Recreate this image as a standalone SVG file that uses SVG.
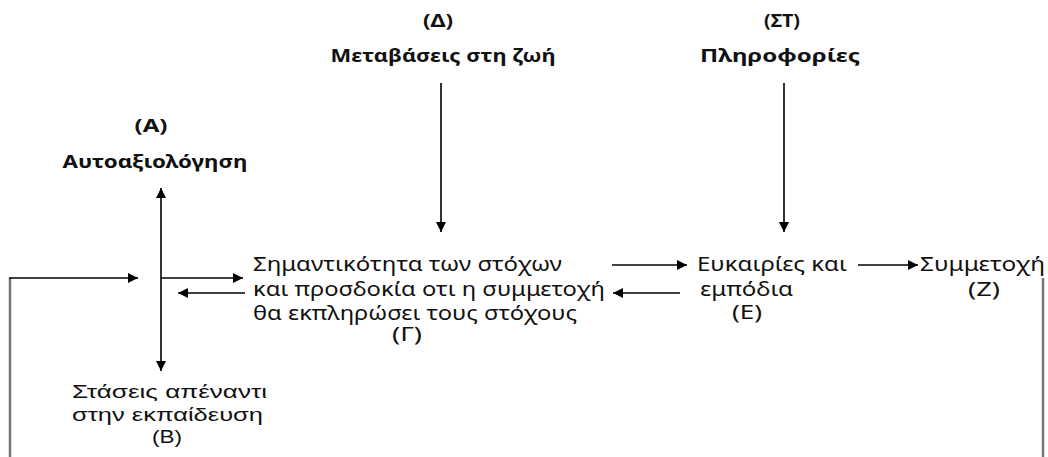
<svg xmlns="http://www.w3.org/2000/svg" width="1048" height="457" viewBox="0 0 1048 457">
<style>
text{font-family:"Noto Sans","Open Sans",sans-serif;fill:#111;}
.b{font-weight:bold;font-size:18px;}
.r{font-size:19px;}
.s{font-family:"Liberation Sans",Arial,sans-serif;font-size:18px;}
.c{text-anchor:middle;}
.ln{stroke:#000;stroke-width:1.6;fill:none;}
.gl{stroke:#777;stroke-width:2.5;fill:none;}
</style>
<defs>
<marker id="ah" viewBox="0 0 10 10" refX="10" refY="5" markerWidth="10" markerHeight="10" markerUnits="userSpaceOnUse" orient="auto">
<path d="M0,0 L10,5 L0,10 Z" fill="#000"/>
</marker>
</defs>
<rect width="1048" height="457" fill="#fff"/>
<g id="node-D">
<text class="b c" x="438" y="27" textLength="30" lengthAdjust="spacingAndGlyphs">(Δ)</text>
<text class="b c" x="443" y="62" textLength="225" lengthAdjust="spacingAndGlyphs">Μεταβάσεις στη ζωή</text>
</g>
<g id="node-ST">
<text class="b c" x="782" y="27" textLength="36" lengthAdjust="spacingAndGlyphs">(ΣΤ)</text>
<text class="b c" x="780" y="62" textLength="160" lengthAdjust="spacingAndGlyphs">Πληροφορίες</text>
</g>
<g id="node-A">
<text class="b c" x="151" y="132" textLength="33" lengthAdjust="spacingAndGlyphs">(Α)</text>
<text class="b c" x="155" y="168" textLength="185" lengthAdjust="spacingAndGlyphs">Αυτοαξιολόγηση</text>
</g>
<g id="node-B">
<text class="s" x="72" y="398" textLength="195" lengthAdjust="spacingAndGlyphs">Στάσεις  απέναντι</text>
<text class="s" x="72" y="421" textLength="191" lengthAdjust="spacingAndGlyphs">στην εκπαίδευση</text>
<text class="s c" x="167" y="443" textLength="30" lengthAdjust="spacingAndGlyphs">(Β)</text>
</g>
<g id="node-G">
<text class="r" x="253" y="271" textLength="309" lengthAdjust="spacingAndGlyphs">Σημαντικότητα των στόχων</text>
<text class="r" x="253" y="296" textLength="352" lengthAdjust="spacingAndGlyphs">και προσδοκία οτι η συμμετοχή</text>
<text class="r" x="253" y="320" textLength="324" lengthAdjust="spacingAndGlyphs">θα εκπληρώσει τους στόχους</text>
<text class="r c" x="407" y="341" textLength="30" lengthAdjust="spacingAndGlyphs">(Γ)</text>
</g>
<g id="node-E">
<text class="r" x="697" y="271" textLength="150" lengthAdjust="spacingAndGlyphs">Ευκαιρίες και</text>
<text class="r" x="700" y="296" textLength="93" lengthAdjust="spacingAndGlyphs">εμπόδια</text>
<text class="r c" x="747" y="319" textLength="30" lengthAdjust="spacingAndGlyphs">(Ε)</text>
</g>
<g id="node-Z">
<text class="r" x="920" y="271" textLength="125" lengthAdjust="spacingAndGlyphs">Συμμετοχή</text>
<text class="r c" x="984" y="296" textLength="32" lengthAdjust="spacingAndGlyphs">(Ζ)</text>
</g>
<g id="connectors">
<line class="ln" x1="441" y1="83" x2="441" y2="232" marker-end="url(#ah)"/>
<line class="ln" x1="784" y1="83" x2="784" y2="232" marker-end="url(#ah)"/>
<line class="ln" x1="161" y1="280" x2="161" y2="188" marker-end="url(#ah)"/>
<line class="ln" x1="161" y1="280" x2="161" y2="371" marker-end="url(#ah)"/>
<line class="ln" x1="161" y1="278" x2="243" y2="278" marker-end="url(#ah)"/>
<line class="ln" x1="245" y1="293" x2="178" y2="293" marker-end="url(#ah)"/>
<line class="ln" x1="612" y1="265" x2="687" y2="265" marker-end="url(#ah)"/>
<line class="ln" x1="680" y1="293" x2="613" y2="293" marker-end="url(#ah)"/>
<line class="ln" x1="858" y1="265" x2="918" y2="265" marker-end="url(#ah)"/>
<line class="gl" x1="10" y1="457" x2="10" y2="278"/>
<line class="ln" x1="9" y1="278" x2="138" y2="278" marker-end="url(#ah)"/>
<line class="gl" x1="1043" y1="278" x2="1043" y2="457"/>
</g>
</svg>
